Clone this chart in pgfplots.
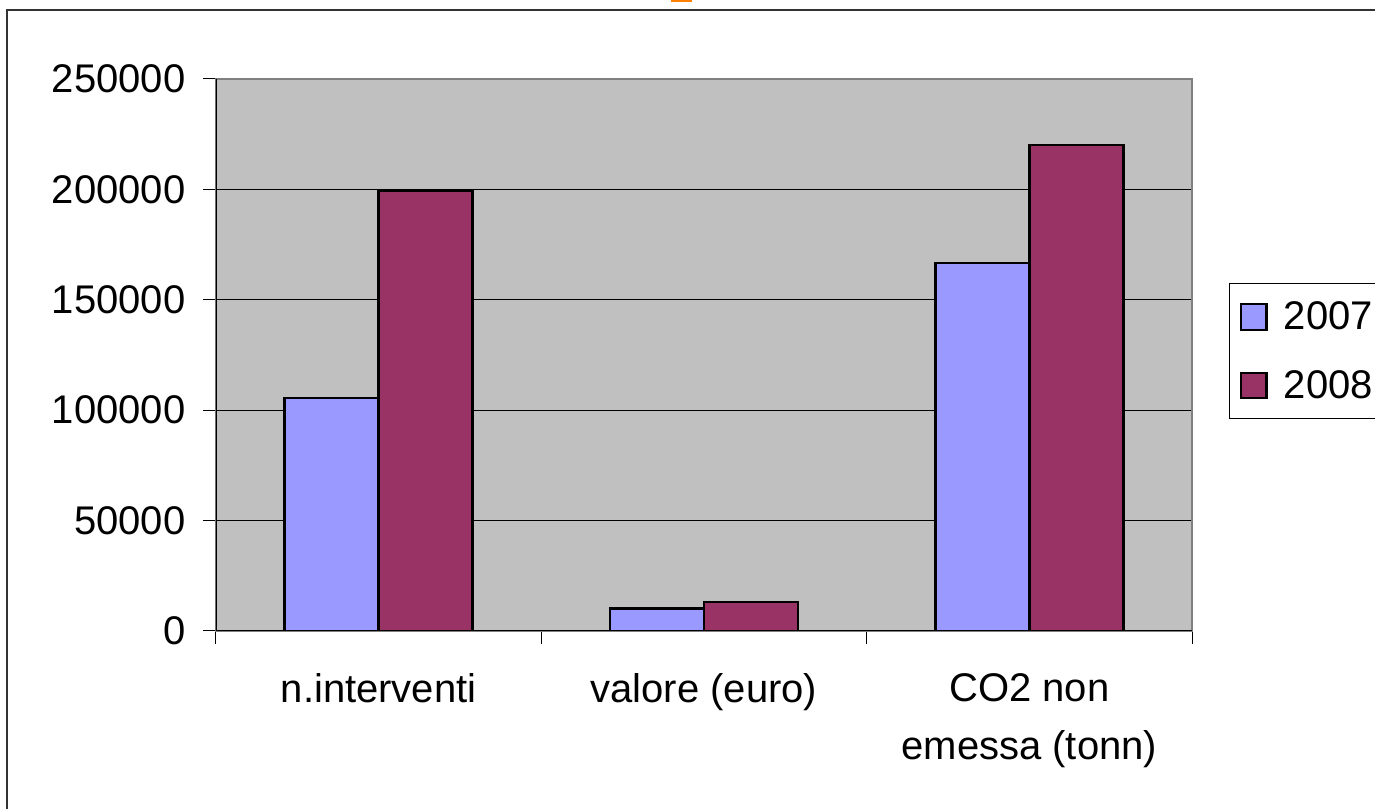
\documentclass[border=0pt]{standalone}
\usepackage{fontspec}
\setmainfont{Liberation Sans}
\usepackage{pgfplots}
\pgfplotsset{compat=1.18}
\definecolor{c2007}{HTML}{9999FF}
\definecolor{c2008}{HTML}{993366}
\definecolor{plotbg}{HTML}{C0C0C0}
\definecolor{frameg}{HTML}{808080}
\newcommand{\chartfont}{\fontsize{30}{43.5}\selectfont}

\begin{document}
\begin{tikzpicture}
\useasboundingbox (0,0) rectangle (1031.25pt,606.75pt);
% outer frame (only the left and top edges are inside the picture)
\draw[line width=1.5pt, color=black!80] (5.25pt,-20pt) -- (5.25pt,599.25pt) -- (1050pt,599.25pt);
\fill[orange] (503.25pt,605pt) rectangle (519pt,610pt);

\begin{axis}[
    at={(162pt,133.5pt)}, anchor=south west,
    scale only axis, width=732pt, height=414pt,
    ybar=0pt, bar width=0.289,
    xmin=-0.5, xmax=2.5,
    ymin=0, ymax=250000,
    scaled y ticks=false,
    ytick={0,50000,100000,150000,200000,250000},
    yticklabels={0,50000,100000,150000,200000,250000},
    yticklabel style={xshift=-10pt},
    xtick={-0.5,0.5,1.5,2.5},
    x tick label as interval=true,
    xticklabels={n.interventi, valore (euro), {CO2 non\\emessa (tonn)}},
    xticklabel style={align=center, yshift=-19pt},
    tick label style={font=\chartfont, black},
    xtick pos=bottom, ytick pos=left,
    tick align=outside,
    major tick length=9.5pt,
    tick style={black, line width=0.75pt},
    ymajorgrids=true,
    grid style={black, line width=0.75pt},
    axis background/.style={fill=plotbg},
    axis line style={frameg, line width=1.2pt},
    legend style={at={(1.0379,0.6296)}, anchor=north west, draw=black,
        line width=0.75pt, fill=white, font=\chartfont, nodes={font=\chartfont},
        row sep=25pt, inner xsep=8pt, inner ysep=11.5pt},
    legend cell align=left,
    legend image code/.code={\draw[#1, line width=1.6pt] (0pt,-9.5pt) rectangle (19pt,9.5pt);
        \path[draw=none, fill=none] (0pt,0pt) -- (30pt,0pt);},
]
\addplot[fill=c2007, draw=black, line width=2pt] coordinates {(0,105500) (1,10300) (2,166700)};
\addlegendentry{\chartfont 2007}
\addplot[fill=c2008, draw=black, line width=2pt] coordinates {(0,199300) (1,13100) (2,220100)};
\addlegendentry{\chartfont 2008}
\draw[black, line width=0.9pt] (rel axis cs:0,1) -- (rel axis cs:0,0) -- (rel axis cs:1,0);
\end{axis}
\end{tikzpicture}
\end{document}
